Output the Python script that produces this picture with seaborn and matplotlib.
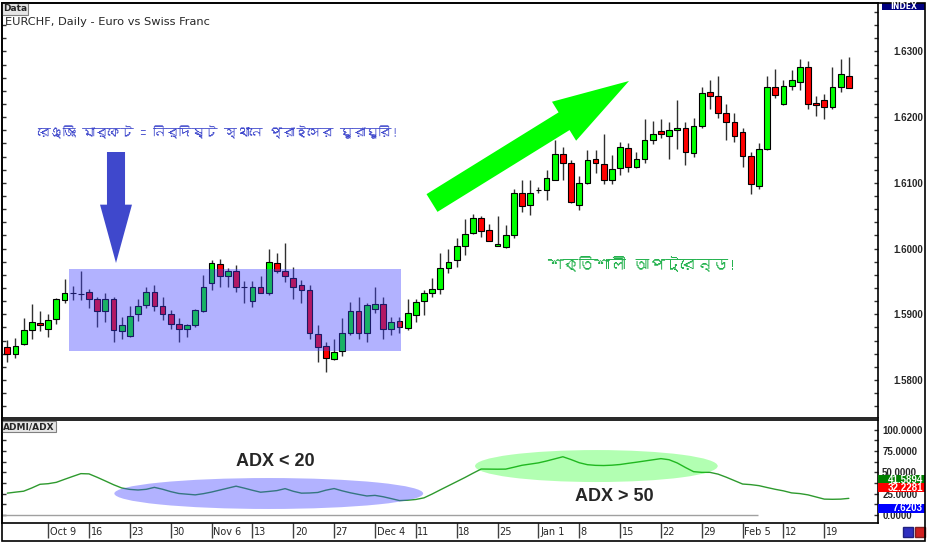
import numpy as np
import pandas as pd
import seaborn as sns
import matplotlib.pyplot as plt
import matplotlib.font_manager as fm
from matplotlib.ft2font import FT2Font
from matplotlib.patches import Rectangle, Ellipse, FancyArrowPatch
from matplotlib.ticker import MultipleLocator, FormatStrFormatter
from matplotlib.transforms import blended_transform_factory

# daily EURCHF bars, first bar = Mon Oct 2
opens = [1.5851, 1.5840, 1.5855, 1.5876, 1.5887, 1.5878, 1.5893, 1.5922, 1.5932, 1.5931,
         1.5934, 1.5923, 1.5905, 1.5923, 1.5875, 1.5867, 1.5900, 1.5914, 1.5934, 1.5912,
         1.5900, 1.5886, 1.5878, 1.5883, 1.5905, 1.5947, 1.5976, 1.5959, 1.5966, 1.5941,
         1.5921, 1.5941, 1.5933, 1.5978, 1.5966, 1.5956, 1.5945, 1.5937, 1.5870, 1.5852,
         1.5832, 1.5844, 1.5872, 1.5905, 1.5871, 1.5908, 1.5915, 1.5877, 1.5890, 1.5879,
         1.5899, 1.5921, 1.5933, 1.5939, 1.5970, 1.5982, 1.6004, 1.6023, 1.6046, 1.6028,
         1.6004, 1.6003, 1.6020, 1.6085, 1.6066, 1.6089, 1.6089, 1.6105, 1.6144, 1.6131,
         1.6067, 1.6100, 1.6136, 1.6129, 1.6104, 1.6122, 1.6153, 1.6124, 1.6136, 1.6165,
         1.6179, 1.6172, 1.6181, 1.6183, 1.6146, 1.6187, 1.6238, 1.6233, 1.6207, 1.6192,
         1.6178, 1.6141, 1.6096, 1.6151, 1.6246, 1.6220, 1.6248, 1.6254, 1.6277, 1.6222,
         1.6226, 1.6216, 1.6246, 1.6263]
highs = [1.5861, 1.5864, 1.5894, 1.5916, 1.5905, 1.5900, 1.5925, 1.5954, 1.5943, 1.5966,
         1.5939, 1.5927, 1.5932, 1.5927, 1.5896, 1.5912, 1.5923, 1.5942, 1.5945, 1.5927,
         1.5907, 1.5895, 1.5886, 1.5908, 1.5960, 1.5983, 1.5984, 1.5970, 1.5975, 1.5950,
         1.5950, 1.5958, 1.6000, 1.5993, 1.6008, 1.5972, 1.5952, 1.5945, 1.5884, 1.5858,
         1.5862, 1.5894, 1.5918, 1.5926, 1.5917, 1.5941, 1.5927, 1.5896, 1.5896, 1.5923,
         1.5923, 1.5937, 1.5956, 1.5994, 1.6000, 1.6016, 1.6045, 1.6052, 1.6050, 1.6037,
         1.6049, 1.6036, 1.6090, 1.6104, 1.6104, 1.6094, 1.6120, 1.6166, 1.6154, 1.6135,
         1.6110, 1.6150, 1.6150, 1.6174, 1.6142, 1.6163, 1.6161, 1.6147, 1.6198, 1.6194,
         1.6197, 1.6192, 1.6226, 1.6192, 1.6199, 1.6246, 1.6256, 1.6262, 1.6220, 1.6206,
         1.6183, 1.6147, 1.6161, 1.6262, 1.6274, 1.6257, 1.6272, 1.6288, 1.6286, 1.6232,
         1.6235, 1.6277, 1.6288, 1.6291]
lows = [1.5827, 1.5833, 1.5853, 1.5862, 1.5874, 1.5865, 1.5886, 1.5917, 1.5922, 1.5922,
        1.5910, 1.5881, 1.5889, 1.5858, 1.5862, 1.5866, 1.5890, 1.5909, 1.5905, 1.5891,
        1.5878, 1.5858, 1.5866, 1.5880, 1.5904, 1.5937, 1.5941, 1.5941, 1.5934, 1.5917,
        1.5911, 1.5932, 1.5929, 1.5963, 1.5949, 1.5923, 1.5917, 1.5863, 1.5827, 1.5812,
        1.5830, 1.5837, 1.5869, 1.5863, 1.5858, 1.5902, 1.5863, 1.5869, 1.5872, 1.5876,
        1.5889, 1.5899, 1.5926, 1.5931, 1.5963, 1.5972, 1.5991, 1.6022, 1.6018, 1.6011,
        1.6004, 1.6001, 1.6016, 1.6056, 1.6051, 1.6084, 1.6074, 1.6104, 1.6105, 1.6069,
        1.6059, 1.6099, 1.6115, 1.6098, 1.6099, 1.6112, 1.6116, 1.6122, 1.6130, 1.6159,
        1.6169, 1.6137, 1.6152, 1.6127, 1.6140, 1.6183, 1.6212, 1.6199, 1.6166, 1.6162,
        1.6124, 1.6083, 1.6091, 1.6150, 1.6229, 1.6219, 1.6242, 1.6242, 1.6212, 1.6202,
        1.6197, 1.6212, 1.6239, 1.6246]
closes = [1.5840, 1.5852, 1.5876, 1.5889, 1.5883, 1.5891, 1.5923, 1.5932, 1.5932, 1.5931,
          1.5923, 1.5905, 1.5923, 1.5876, 1.5883, 1.5898, 1.5913, 1.5934, 1.5913, 1.5900,
          1.5886, 1.5878, 1.5883, 1.5907, 1.5941, 1.5978, 1.5959, 1.5966, 1.5941, 1.5941,
          1.5941, 1.5933, 1.5979, 1.5966, 1.5959, 1.5942, 1.5937, 1.5871, 1.5851, 1.5833,
          1.5843, 1.5872, 1.5905, 1.5871, 1.5914, 1.5915, 1.5877, 1.5889, 1.5880, 1.5902,
          1.5919, 1.5933, 1.5938, 1.5970, 1.5980, 1.6004, 1.6022, 1.6046, 1.6027, 1.6012,
          1.6007, 1.6021, 1.6085, 1.6065, 1.6085, 1.6089, 1.6107, 1.6144, 1.6131, 1.6071,
          1.6100, 1.6135, 1.6130, 1.6104, 1.6121, 1.6154, 1.6124, 1.6136, 1.6165, 1.6175,
          1.6174, 1.6181, 1.6183, 1.6147, 1.6187, 1.6237, 1.6233, 1.6207, 1.6192, 1.6172,
          1.6141, 1.6098, 1.6152, 1.6246, 1.6234, 1.6248, 1.6257, 1.6277, 1.6220, 1.6219,
          1.6216, 1.6246, 1.6266, 1.6245]

adx = [25.6, 26.8, 27.9, 31.7, 36.0, 36.7, 38.3, 41.8, 45.2, 48.5,
       48.2, 44.2, 39.9, 35.5, 31.7, 30.0, 29.3, 30.1, 32.4, 30.2,
       27.4, 25.2, 24.4, 23.6, 25.0, 26.9, 29.2, 31.5, 33.8, 31.5,
       29.0, 26.7, 27.6, 28.6, 30.9, 27.8, 25.6, 25.8, 26.4, 29.1,
       31.0, 28.3, 26.0, 24.1, 22.3, 23.0, 21.4, 19.2, 16.9, 17.3,
       18.2, 20.1, 24.6, 29.5, 34.3, 39.1, 43.9, 49.0, 53.9, 53.8,
       53.7, 53.8, 56.0, 58.3, 59.7, 61.1, 63.3, 65.8, 68.3, 65.0,
       61.3, 59.0, 58.2, 58.0, 58.4, 59.2, 60.6, 61.9, 63.3, 64.7,
       66.1, 64.8, 61.0, 55.7, 50.8, 50.0, 50.0, 47.9, 44.3, 40.3,
       36.3, 35.6, 34.4, 32.2, 30.1, 28.3, 25.9, 25.1, 23.6, 21.1,
       18.6, 18.4, 18.6, 19.5]

date_ticks = list(range(5, 101, 5))
date_labels = ['Oct 9', '16', '23', '30', 'Nov 6', '13', '20', '27', 'Dec 4', '11',
               '18', '25', 'Jan 1', '8', '15', '22', '29', 'Feb 5', '12', '19']
price_ticks = [1.58, 1.59, 1.60, 1.61, 1.62, 1.63]
adx_ticks = [0, 25, 50, 75, 100]
last_values = [41.5894, 32.2281, 7.6203]
last_colors = ['#008000', '#ff0000', '#0000ff']

range_text = "রেঞ্জিং মার্কেট = নির্দিষ্ট স্থানে প্রাইসের ঘুরাঘুরি!"
trend_text = "শক্তিশালী আপট্রেন্ড!"

# ranging zone: bars 7.5 to 48.2, 1.5844 - 1.5969
range_box = (7.5, 48.2, 1.5844, 1.5969)

sns.set_style("white")
plt.rcParams['font.family'] = ['DejaVu Sans']

# look for any installed font that has Bengali glyphs
bn_font = None
for f in fm.fontManager.ttflist:
    try:
        if 0x0995 in FT2Font(f.fname).get_charmap():
            bn_font = f.name
            break
    except Exception:
        pass
bn_family = [bn_font, 'DejaVu Sans'] if bn_font else ['DejaVu Sans']

W, H = 928, 543
fig = plt.figure(figsize=(W / 100, H / 100), dpi=100)


def fx(x):
    return x / W


def fy(y):
    return 1 - y / H


ax = fig.add_axes([fx(2), fy(418), fx(878) - fx(2), fy(3) - fy(418)])
ax2 = fig.add_axes([fx(2), fy(523), fx(878) - fx(2), fy(420) - fy(523)])

df = pd.DataFrame({'open': opens, 'high': highs, 'low': lows, 'close': closes})
df['bar'] = np.arange(len(df))
up = df['close'] >= df['open']
body_col = np.where(up, '#00ff00', '#ff0000')

#%% candles
ax.vlines(df['bar'], df['low'], df['high'], color='#303030', linewidth=1, zorder=2)
ax.bar(df['bar'], (df['close'] - df['open']).abs(), bottom=df[['open', 'close']].min(axis=1),
       width=0.7, color=body_col, edgecolor='black', linewidth=0.8, zorder=3)

x0, x1, y0, y1 = range_box
ax.add_patch(Rectangle((x0, y0), x1 - x0, y1 - y0, facecolor='#4040ff', alpha=0.4,
                       linewidth=0, zorder=4))

# no text shaping in matplotlib, so the Bengali runs wide: smaller size keeps the width
ax.text(25.7, 1.6176, range_text, color='#3f48cc', fontsize=9.3, ha='center', va='center',
        family=bn_family)
ax.text(77.6, 1.5977, trend_text, color='#22b14c', fontsize=11.3, ha='center', va='center',
        family=bn_family)

ax.set_xlim(-0.65, 106.57)
ax.set_ylim(1.57422, 1.63738)
ax.set_xticks([])
ax.set_yticks(price_ticks)
ax.yaxis.set_major_formatter(FormatStrFormatter('%.4f'))
ax.yaxis.set_minor_locator(MultipleLocator(0.002))
ax.tick_params(axis='y', which='both', direction='in', left=True, right=True, length=3,
               width=1, color='#303030', labelleft=False, labelright=True, labelsize=7, pad=11)
for lab in ax.get_yticklabels():
    lab.set_fontweight('bold')
    lab.set_family('Liberation Sans')
for sp in ax.spines.values():
    sp.set_color('black')
    sp.set_linewidth(1.2)

ax.text(0.001, 0.997, 'Data', transform=ax.transAxes, fontsize=6.5, fontweight='bold',
        va='top', ha='left',
        bbox=dict(boxstyle='square,pad=0.15', facecolor='#e6e6e6', edgecolor='#808080', lw=0.8))
fig.text(fx(5), fy(22), 'EURCHF, Daily - Euro vs Swiss Franc', fontsize=8.2, va='center', ha='left')

#%% ADX panel
sns.lineplot(x=df['bar'], y=adx, ax=ax2, color='#2e9a2e', linewidth=1)
ax2.hlines(0, -0.65, 91.9, color='#a0a0a0', linewidth=1)
ax2.add_patch(Ellipse((32.0, 25.2), 37.8, 36.3, facecolor='#4040ff', alpha=0.4, lw=0, zorder=4))
ax2.add_patch(Ellipse((72.1, 57.4), 29.7, 37.5, facecolor='#00ff00', alpha=0.3, lw=0, zorder=4))
ax2.text(32.8, 63.3, 'ADX < 20', fontsize=13, fontweight='bold', family='Liberation Sans',
         ha='center', va='center')
ax2.text(74.3, 21.1, 'ADX > 50', fontsize=13, fontweight='bold', family='Liberation Sans',
         ha='center', va='center')

ax2.set_xlim(-0.65, 106.57)
ax2.set_ylim(-9.4, 111.4)
ax2.set_xlabel('')
ax2.set_ylabel('')
ax2.set_yticks(adx_ticks)
ax2.yaxis.set_major_formatter(FormatStrFormatter('%.4f'))
ax2.yaxis.set_minor_locator(MultipleLocator(12.5))
ax2.tick_params(axis='y', which='both', direction='in', left=True, right=True, length=3,
                width=1, color='#303030', labelleft=False, labelright=True, labelsize=7, pad=3)
for lab in ax2.get_yticklabels():
    lab.set_fontweight('bold')
    lab.set_family('Liberation Sans')
ax2.set_xticks(date_ticks)
ax2.set_xticklabels([''] * len(date_ticks))
ax2.tick_params(axis='x', direction='out', length=11, width=1, color='#404040', bottom=True)
for sp in ax2.spines.values():
    sp.set_color('black')
    sp.set_linewidth(1.2)

bt = blended_transform_factory(ax2.transData, ax2.transAxes)
for t, lab in zip(date_ticks, date_labels):
    ax2.text(t + 0.2, -0.09, lab, transform=bt, fontsize=7, ha='left', va='center',
             clip_on=False)

rt = blended_transform_factory(ax2.transAxes, ax2.transData)
for v, c in zip(last_values, last_colors):
    ax2.add_patch(Rectangle((1.0, v - 5.2), 47 / 876, 10.4, transform=rt, facecolor=c,
                            edgecolor='none', clip_on=False, zorder=5))
    ax2.text(1.0 + 45 / 876, v, f'{v:.4f}', transform=rt, ha='right', va='center',
             color='white', fontsize=7, fontweight='bold', family='Liberation Sans',
             zorder=6, clip_on=False)

ax2.text(0.001, 0.98, 'ADMI/ADX', transform=ax2.transAxes, fontsize=6.5, fontweight='bold',
         va='top', ha='left',
         bbox=dict(boxstyle='square,pad=0.15', facecolor='#e6e6e6', edgecolor='#808080', lw=0.8))

#%% arrows and frame
fig.add_artist(FancyArrowPatch((fx(116), fy(152)), (fx(116), fy(263)), transform=fig.transFigure,
                               arrowstyle='simple,head_length=42,head_width=23,tail_width=13',
                               mutation_scale=1, shrinkA=0, shrinkB=0, color='#3f48cc',
                               lw=0, zorder=6))
fig.add_artist(FancyArrowPatch((fx(432), fy(203)), (fx(629), fy(81)), transform=fig.transFigure,
                               arrowstyle='simple,head_length=55,head_width=33,tail_width=15',
                               mutation_scale=1, shrinkA=0, shrinkB=0, color='#00ff00',
                               lw=0, zorder=6))

fig.add_artist(Rectangle((fx(882), fy(10)), fx(925) - fx(882), fy(3) - fy(10),
                         transform=fig.transFigure, facecolor='#000080', edgecolor='none'))
fig.text(fx(903.5), fy(6.7), 'INDEX', color='white', fontsize=5.5, fontweight='bold',
         ha='center', va='center')
fig.add_artist(Rectangle((fx(903), fy(537)), fx(913) - fx(903), fy(527) - fy(537),
                         transform=fig.transFigure, facecolor='#3030c0', edgecolor='#202080'))
fig.add_artist(Rectangle((fx(915), fy(537)), fx(925) - fx(915), fy(527) - fy(537),
                         transform=fig.transFigure, facecolor='#d02020', edgecolor='#802020'))
fig.add_artist(Rectangle((fx(2), fy(541)), fx(925) - fx(2), fy(3) - fy(541),
                         transform=fig.transFigure, fill=False, edgecolor='black', lw=1.2))

fig.savefig('out.png', dpi=100)
